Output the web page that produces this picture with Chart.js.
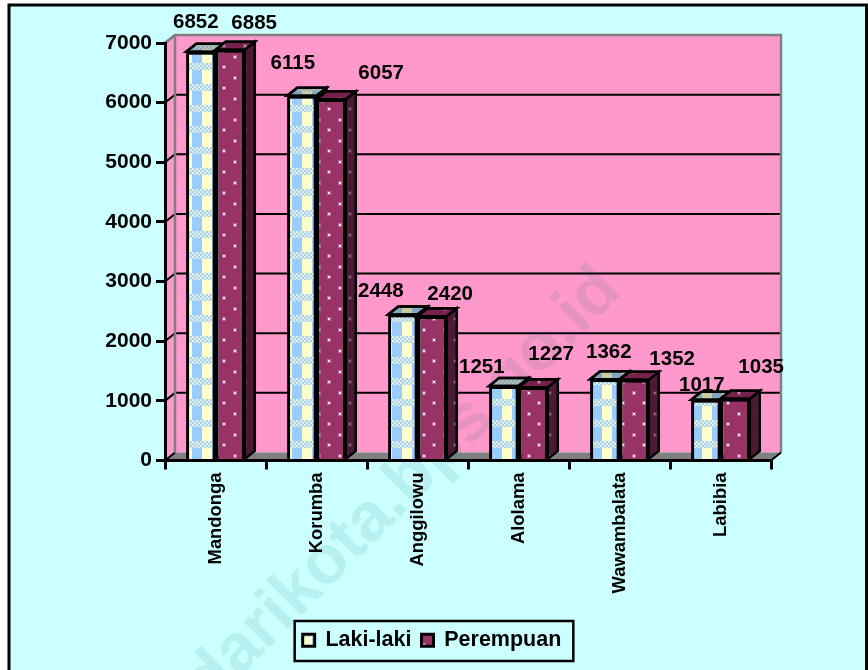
<!DOCTYPE html>
<html>
<head>
<meta charset="utf-8">
<title>Penduduk</title>
<script src="https://cdn.jsdelivr.net/npm/chart.js@4"></script>
<style>
    html, body { margin: 0; padding: 0; background: #fff; overflow: hidden; }
    #wrap { width: 868px; height: 670px; }
</style>
</head>
<body>
<div id="wrap"><canvas id="chart" width="868" height="670"></canvas></div>
<script>
const categories = ['Mandonga', 'Korumba', 'Anggilowu', 'Alolama', 'Wawambalata', 'Labibia'];
const lakiLaki = [6852, 6115, 2448, 1251, 1362, 1017];
const perempuan = [6885, 6057, 2420, 1227, 1352, 1035];

// the value labels were moved by hand in the original: [dx, dy] from the bar's top centre
const lakiNudge = [[-5, -29], [-9, -32], [-22, -23], [-22, -19], [4, -27], [-4, -14]];
const perempuanNudge = [[24, -27], [50, -26], [18, -22], [18, -33], [38, -21], [26, -31]];

const DEPTH_X = 10;
const DEPTH_Y = 8;
const FONT = "'Liberation Sans', Arial, sans-serif";

function makeTile(w, h, paint) {
    const c = document.createElement('canvas');
    c.width = w;
    c.height = h;
    paint(c.getContext('2d'));
    return c;
}

function lakiTile(g) {
    g.fillStyle = '#FFFFCC';
    g.fillRect(0, 0, 20, 21);
    g.fillStyle = '#99CCFF';
    g.fillRect(12, 7, 10, 14);
    g.fillRect(0, 7, 2, 14);
    for (let y = 0; y < 7; y += 1) {
        for (let x = 0; x < 20; x += 1) {
            g.fillStyle = (Math.floor(x / 2) + Math.floor(y / 2)) % 2 ? '#A6D2EC' : '#E4F0E6';
            g.fillRect(x, y, 1, 1);
        }
    }
}

function perempuanTile(base, halo, dot) {
    return g => {
        g.fillStyle = base;
        g.fillRect(0, 0, 21, 21);
        [[14, 4], [4, 15]].forEach(p => {
            g.fillStyle = halo;
            g.fillRect(p[0] - 2, p[1] - 2, 4, 4);
            g.fillStyle = dot;
            g.fillRect(p[0] - 1, p[1] - 1, 2, 2);
        });
    };
}

const probe = document.createElement('canvas').getContext('2d');
const lakiFill = probe.createPattern(makeTile(20, 21, lakiTile), 'repeat');
const perFill = probe.createPattern(makeTile(21, 21, perempuanTile('#993366', '#B5688F', '#F5E6EE')), 'repeat');
const perSide = probe.createPattern(makeTile(21, 21, perempuanTile('#4D1A33', '#5E3048', '#8A6678')), 'repeat');

function poly(ctx, pts, fill, stroke, width) {
    ctx.beginPath();
    pts.forEach((p, i) => (i ? ctx.lineTo(p[0], p[1]) : ctx.moveTo(p[0], p[1])));
    ctx.closePath();
    if (fill) {
        ctx.fillStyle = fill;
        ctx.fill();
    }
    if (stroke) {
        ctx.strokeStyle = stroke;
        ctx.lineWidth = width;
        ctx.stroke();
    }
}

const scene = {
    id: 'scene',
    beforeDraw(chart) {
        const ctx = chart.ctx;
        const { left, right, top, bottom } = chart.chartArea;

        // the legend centres on the plot's box, the original sits near the page centre
        const lg = chart.legend;
        const shift = 432 - (lg.left + lg.right) / 2;
        lg.left += shift;
        lg.right += shift;
        lg.legendHitBoxes.forEach(b => { b.left += shift; });

        ctx.save();
        ctx.fillStyle = '#fff';
        ctx.fillRect(0, 0, chart.width, chart.height);
        ctx.fillStyle = '#CCFFFF';
        ctx.fillRect(9, 5, 858, chart.height);
        ctx.strokeStyle = '#000';
        ctx.lineWidth = 3;
        ctx.beginPath();
        ctx.moveTo(9, chart.height);
        ctx.lineTo(9, 5);
        ctx.lineTo(866.5, 5);
        ctx.lineTo(866.5, chart.height);
        ctx.stroke();

        // back wall, side wall, floor
        const bl = left + DEPTH_X, br = right + DEPTH_X, bt = top - DEPTH_Y, bb = bottom - DEPTH_Y;
        poly(ctx, [[bl, bt], [br, bt], [br, bb], [bl, bb]], '#FF99CC');
        poly(ctx, [[left, top], [bl, bt], [bl, bb], [left, bottom]], '#FF99CC');
        poly(ctx, [[left, bottom], [bl, bb], [br, bb], [right, bottom]], '#808080');

        const y = chart.scales.y;
        ctx.strokeStyle = '#000';
        ctx.lineWidth = 2;
        y.ticks.forEach((t, i) => {
            const py = y.getPixelForTick(i);
            ctx.beginPath();
            ctx.moveTo(left, py);
            ctx.lineTo(bl, py - DEPTH_Y);
            if (t.value > 0) ctx.lineTo(br, py - DEPTH_Y);
            ctx.stroke();
        });

        ctx.strokeStyle = '#808080';
        ctx.lineWidth = 2.5;
        ctx.beginPath();
        ctx.moveTo(left, top);
        ctx.lineTo(bl, bt);
        ctx.lineTo(br, bt);
        ctx.lineTo(br, bb);
        ctx.moveTo(bl, bt);
        ctx.lineTo(bl, bb);
        ctx.stroke();

        ctx.strokeStyle = '#000';
        ctx.lineWidth = 2;
        ctx.beginPath();
        ctx.moveTo(right, bottom);
        ctx.lineTo(br, bb);
        ctx.stroke();

        // faint site watermark
        ctx.translate(362, 528);
        ctx.rotate(-Math.PI / 4);
        ctx.font = 'bold 68px ' + FONT;
        ctx.textAlign = 'center';
        ctx.textBaseline = 'middle';
        ctx.fillStyle = 'rgba(0,110,110,0.1)';
        ctx.fillText('kendarikota.bps.go.id', 0, 0);
        ctx.restore();
    },
    afterDatasetsDraw(chart) {
        const ctx = chart.ctx;
        ctx.save();
        categories.forEach((_, i) => {
            [0, 1].forEach(d => {
                const bar = chart.getDatasetMeta(d).data[i];
                const l = bar.x - bar.width / 2, r = bar.x + bar.width / 2;
                const t = bar.y, b = bar.base;
                const top = [[l, t], [l + DEPTH_X, t - DEPTH_Y], [r + DEPTH_X, t - DEPTH_Y], [r, t]];
                const side = [[r, t], [r + DEPTH_X, t - DEPTH_Y], [r + DEPTH_X, b - DEPTH_Y], [r, b]];
                poly(ctx, side, d ? perSide : lakiFill, '#000', 2.5);
                poly(ctx, top, d ? perFill : lakiFill, '#000', 2.5);
                poly(ctx, top, d ? 'rgba(60,0,30,0.35)' : 'rgba(80,80,60,0.3)', '#000', 2.5);
                bar.draw(ctx);
            });
        });

        // value labels
        ctx.font = 'bold 20.5px ' + FONT;
        ctx.fillStyle = '#000';
        ctx.textAlign = 'center';
        ctx.textBaseline = 'middle';
        [[lakiLaki, lakiNudge], [perempuan, perempuanNudge]].forEach((set, d) => {
            set[0].forEach((v, i) => {
                const bar = chart.getDatasetMeta(d).data[i];
                ctx.fillText(String(v), bar.x + set[1][i][0], bar.y + set[1][i][1]);
            });
        });
        ctx.restore();
    },
    afterDraw(chart) {
        // legend frame
        const boxes = chart.legend.legendHitBoxes;
        const x0 = boxes[0].left - 8;
        const x1 = boxes[boxes.length - 1].left + boxes[boxes.length - 1].width + 12;
        const ctx = chart.ctx;
        ctx.save();
        ctx.strokeStyle = '#000';
        ctx.lineWidth = 2.5;
        ctx.strokeRect(x0, 621, x1 - x0, 40);
        ctx.restore();
    }
};

function flat(scale) {
    scale.paddingTop = 0;
    scale.paddingBottom = 0;
    scale.paddingLeft = 0;
    scale.paddingRight = 0;
}

Chart.defaults.font.family = FONT;
Chart.defaults.font.weight = 'bold';
Chart.defaults.color = '#000';

new Chart(document.getElementById('chart'), {
    type: 'bar',
    plugins: [scene],
    data: {
        labels: categories,
        datasets: [
            { label: 'Laki-laki', data: lakiLaki, backgroundColor: lakiFill, borderColor: '#000', borderWidth: 3 },
            { label: 'Perempuan', data: perempuan, backgroundColor: perFill, borderColor: '#000', borderWidth: 3 }
        ]
    },
    options: {
        responsive: false,
        animation: false,
        categoryPercentage: 0.58,
        barPercentage: 1,
        layout: { padding: { top: 43, right: 97, bottom: 9, left: 0 } },
        plugins: {
            tooltip: { enabled: false },
            legend: {
                position: 'bottom',
                labels: { boxWidth: 12, boxHeight: 12, padding: 10, font: { size: 21.5, weight: 'bold' } }
            }
        },
        scales: {
            x: {
                afterFit(scale) {
                    scale.height = 159;
                    flat(scale);
                },
                grid: { drawOnChartArea: false, color: '#000', lineWidth: 3, tickLength: 9 },
                border: { color: '#000', width: 3 },
                ticks: { minRotation: 90, maxRotation: 90, autoSkip: false, padding: 3, font: { size: 18.4, weight: 'bold' } }
            },
            y: {
                min: 0,
                max: 7000,
                afterFit(scale) {
                    scale.width = 165;
                    flat(scale);
                },
                grid: { drawOnChartArea: false, color: '#000', lineWidth: 3, tickLength: 9 },
                border: { color: '#000', width: 3 },
                ticks: { stepSize: 1000, padding: 4, font: { size: 21, weight: 'bold' }, callback: v => String(v) }
            }
        }
    }
});
</script>
</body>
</html>
